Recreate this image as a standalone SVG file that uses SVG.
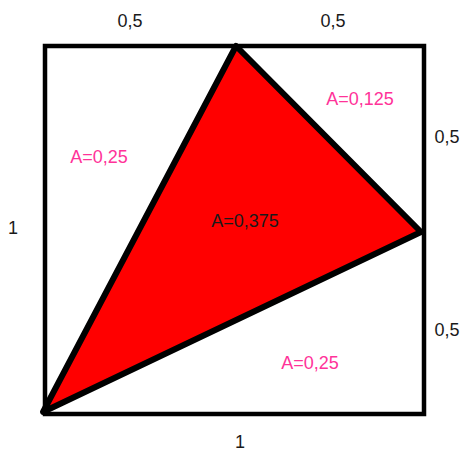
<svg xmlns="http://www.w3.org/2000/svg" width="463" height="452" viewBox="0 0 463 452">
<style>
text{font-family:"Liberation Sans",Arial,sans-serif;font-size:18px;text-anchor:middle}
.k{fill:#1a1a1a}
.p{fill:#ff3399}
</style>
<rect width="463" height="452" fill="#fff"/>
<g id="square"><rect x="45" y="46" width="379" height="368" fill="none" stroke="#000" stroke-width="4.5"/></g>
<g id="triangle"><polygon points="43,412 236,46 421,232" fill="#ff0000" stroke="#000" stroke-width="6" stroke-linejoin="round"/></g>
<g id="labels">
<text class="k" x="130" y="27">0,5</text>
<text class="k" x="333" y="27">0,5</text>
<text class="k" x="447" y="143">0,5</text>
<text class="k" x="447" y="336">0,5</text>
<text class="k" x="13" y="234">1</text>
<text class="k" x="240" y="448">1</text>
<text class="p" x="360" y="105">A=0,125</text>
<text class="p" x="99" y="163">A=0,25</text>
<text class="p" x="310" y="369">A=0,25</text>
<text class="k" x="245" y="227">A=0,375</text>
</g>
</svg>
